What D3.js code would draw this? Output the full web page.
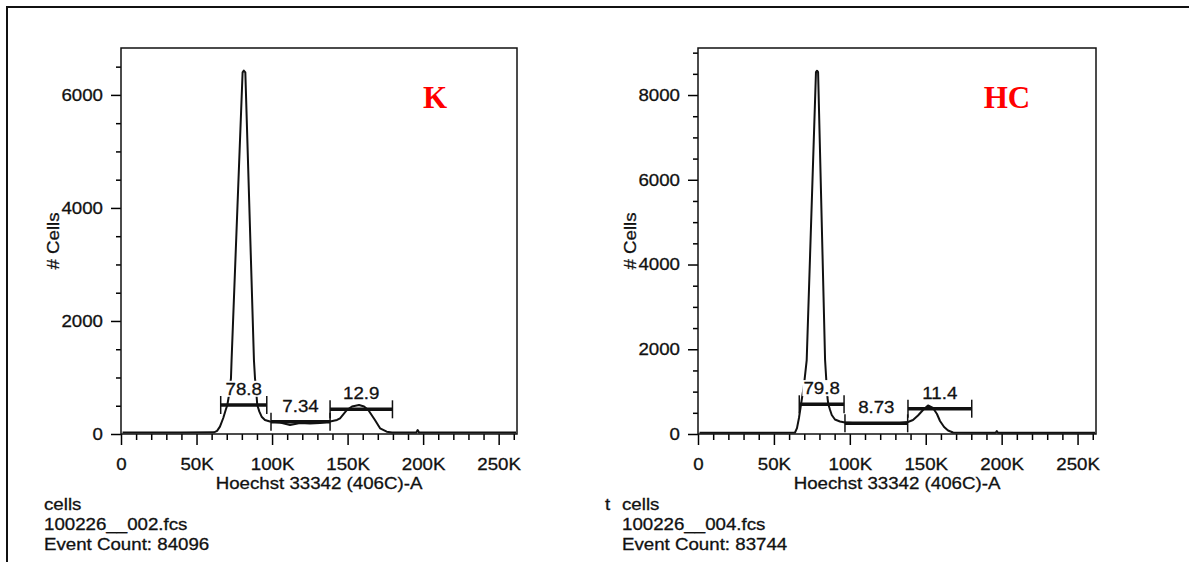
<!DOCTYPE html>
<html>
<head>
<meta charset="utf-8">
<script src="https://cdn.jsdelivr.net/npm/d3@7"></script>
<style>
  body { margin: 0; background: #fff; }
  svg { display: block; }
  text { font-family: "Liberation Sans", Arial, sans-serif; fill: #111; stroke: #111; stroke-width: 0.3px; }
</style>
</head>
<body>
<div id="gv"></div>
<script>
console.log("cell cycle histograms");

let width = 1189;
let height = 562;

// Hoechst 33342 (406C)-A in K, and # cells
let kX =     [1, 20, 40, 61.6, 63.6, 65.5, 67.7, 69.3, 70.4, 71.5, 72.8, 73.2, 80.5, 81.3, 82.3, 88.0, 88.7, 89.7, 90.2, 91.6, 93.1, 95.3, 98.6, 105.3, 111.9, 118.5, 125.1, 131.7, 138.4, 143.0, 145.0, 149.6, 152.9, 157.6, 160.9, 163.7, 168.1, 171.5, 175.9, 179.4, 195.5, 196.4, 197.3, 230, 261.5];
let kCount = [25, 25, 25, 30, 55, 130, 283, 425, 513, 690, 990, 1310, 6400, 6430, 6400, 1310, 990, 690, 513, 395, 306, 248, 221, 204, 160, 195, 186, 195, 221, 248, 278, 425, 487, 513, 487, 425, 248, 101, 41, 25, 25, 70, 25, 25, 25];

// same for the HC histogram
let hcX =     [1, 30, 63.9, 65.2, 66.5, 67.5, 68.5, 69.8, 71.6, 77.7, 78.4, 79.1, 83.7, 84.7, 85.3, 85.8, 87.0, 88.1, 90.2, 93.5, 96.8, 106.7, 119.9, 133.1, 138.3, 141.6, 144.9, 148.2, 151.5, 154.8, 157.4, 159.4, 162.1, 164.7, 168.0, 196, 196.8, 197.6, 230, 261.5];
let hcCount = [30, 30, 35, 140, 378, 614, 850, 1156, 1746, 8540, 8574, 8540, 1746, 1156, 850, 708, 566, 448, 342, 295, 271, 248, 248, 260, 283, 330, 437, 566, 673, 614, 472, 307, 165, 83, 35, 30, 70, 30, 30, 30];

// range gates: start / end (K), drawn at (# cells), percent
let kGateStart = [66.0, 99.3, 138.4];
let kGateEnd   = [96.5, 138.4, 179.7];
let kGateLevel = [513, 218, 437];
let kGateLabel = ["78.8", "7.34", "12.9"];

let hcGateStart = [66.7, 96.8, 138.3];
let hcGateEnd   = [96.2, 138.1, 180.3];
let hcGateLevel = [701, 252, 597];
let hcGateLabel = ["79.8", "8.73", "11.4"];

let xMaxK = 262.144;
let xTicks = [0, 50, 100, 150, 200, 250];
let kYMax = 6830;
let kYTicks = [0, 2000, 4000, 6000];
let hcYMax = 9110;
let hcYTicks = [0, 2000, 4000, 6000, 8000];

let kInfo = ["cells", "100226__002.fcs", "Event Count: 84096"];
let hcInfo = ["cells", "100226__004.fcs", "Event Count: 83744"];

let plotTop = 48;
let plotBottom = 434;
let fontSize = 17;
let stretch = 1.1;

let viz = d3.select("#gv")
  .append("svg")
    .attr("width", width)
    .attr("height", height)
;

// outer frame (left and top edges only are visible)
viz.append("path")
  .attr("d", `M7,${height} L7,7 L${width},7`)
  .attr("fill", "none")
  .attr("stroke", "#111")
  .attr("stroke-width", 2)
;

gotPanel({
  left: 121, right: 517, yMax: kYMax, yTicks: kYTicks,
  xs: kX, counts: kCount,
  gs: kGateStart, ge: kGateEnd, gl: kGateLevel, gt: kGateLabel,
  title: "K", titleX: 435, info: kInfo, infoX: 44
});

gotPanel({
  left: 698, right: 1096, yMax: hcYMax, yTicks: hcYTicks,
  xs: hcX, counts: hcCount,
  gs: hcGateStart, ge: hcGateEnd, gl: hcGateLevel, gt: hcGateLabel,
  title: "HC", titleX: 1007, info: hcInfo, infoX: 622
});

// clipped leftover of the gate name
putText(605, 510, "t", "start");

function putText(x, y, str, anchor) {
  let t = viz.append("g")
    .attr("transform", `translate(${x},${y}) scale(${stretch},1)`)
  ;
  t.append("text")
    .attr("text-anchor", anchor)
    .attr("font-size", fontSize)
    .text(str)
  ;
  return t;
}

function fmtK(d) {
  return d == 0 ? "0" : d + "K";
}

function gotPanel(p) {
  let x = d3.scaleLinear().domain([0, xMaxK]).range([p.left, p.right]);
  let y = d3.scaleLinear().domain([0, p.yMax]).range([plotBottom, plotTop]);

  let xMinor = d3.range(10, xMaxK, 10).filter(d => d % 50 != 0);
  let yMinor = d3.range(500, p.yMax, 500).filter(d => d % 2000 != 0);

  let g = viz.append("g");

  g.append("g")
    .attr("transform", `translate(0,${plotBottom})`)
    .call(d3.axisBottom(x).tickValues(xMinor).tickSize(6).tickFormat(""))
    .call(a => a.select(".domain").remove())
    .call(a => a.selectAll("line").attr("stroke-width", 1.5))
  ;

  g.append("g")
    .attr("transform", `translate(0,${plotBottom})`)
    .call(d3.axisBottom(x).tickValues(xTicks).tickSize(11).tickPadding(13).tickFormat(fmtK))
    .call(a => a.select(".domain").remove())
    .call(a => a.selectAll("line").attr("stroke-width", 1.5))
    .call(a => a.selectAll("text")
      .attr("font-size", fontSize)
      .attr("transform", `scale(${stretch},1)`))
  ;

  g.append("g")
    .attr("transform", `translate(${p.left},0)`)
    .call(d3.axisLeft(y).tickValues(yMinor).tickSize(5).tickFormat(""))
    .call(a => a.select(".domain").remove())
    .call(a => a.selectAll("line").attr("stroke-width", 1.5))
  ;

  g.append("g")
    .attr("transform", `translate(${p.left},0)`)
    .call(d3.axisLeft(y).tickValues(p.yTicks).tickSize(10).tickFormat(d3.format("d")))
    .call(a => a.select(".domain").remove())
    .call(a => a.selectAll("line").attr("stroke-width", 1.5))
    .call(a => a.selectAll("text")
      .attr("x", -18 / stretch)
      .attr("font-size", fontSize)
      .attr("transform", `scale(${stretch},1)`))
  ;

  // plot box
  g.append("rect")
    .attr("x", p.left)
    .attr("y", plotTop)
    .attr("width", p.right - p.left)
    .attr("height", plotBottom - plotTop)
    .attr("fill", "none")
    .attr("stroke", "#111")
    .attr("stroke-width", 1.5)
  ;

  // histogram
  g.append("path")
    .datum(d3.zip(p.xs, p.counts))
    .attr("d", d3.line().x(d => x(d[0])).y(d => y(d[1])))
    .attr("fill", "none")
    .attr("stroke", "#111")
    .attr("stroke-width", 2)
    .attr("stroke-linejoin", "round")
  ;

  // range gates
  let gates = d3.range(p.gs.length).map(i => ({ s: p.gs[i], e: p.ge[i], l: p.gl[i], t: p.gt[i] }));

  g.selectAll(".bar").data(gates)
    .enter()
      .append("line")
      .attr("x1", d => x(d.s))
      .attr("x2", d => x(d.e))
      .attr("y1", d => y(d.l))
      .attr("y2", d => y(d.l))
      .attr("stroke", "#111")
      .attr("stroke-width", 3.5)
  ;

  let ends = [];
  gates.forEach(d => { ends.push({ v: d.s, l: d.l }); ends.push({ v: d.e, l: d.l }); });

  g.selectAll(".end").data(ends)
    .enter()
      .append("line")
      .attr("x1", d => x(d.v))
      .attr("x2", d => x(d.v))
      .attr("y1", d => y(d.l) - 9)
      .attr("y2", d => y(d.l) + 9)
      .attr("stroke", "#111")
      .attr("stroke-width", 1.5)
  ;

  // gate percentages sit on a white box that hides the curve behind them
  gates.forEach(d => {
    let t = putText((x(d.s) + x(d.e)) / 2, y(d.l) - 10, d.t, "middle");
    let bb = t.select("text").node().getBBox();
    t.insert("rect", "text")
      .attr("x", bb.x - 1)
      .attr("y", bb.y + 1)
      .attr("width", bb.width + 2)
      .attr("height", bb.height - 3)
      .attr("fill", "#fff")
    ;
  });

  // axis titles
  putText((p.left + p.right) / 2, 489, "Hoechst 33342 (406C)-A", "middle");

  viz.append("text")
    .attr("transform", `translate(${p.left - 62},${(plotTop + plotBottom) / 2}) rotate(-90) scale(${stretch},1)`)
    .attr("text-anchor", "middle")
    .attr("font-size", fontSize)
    .text("# Cells")
  ;

  // sample label
  viz.append("text")
    .attr("x", p.titleX)
    .attr("y", 108)
    .attr("text-anchor", "middle")
    .attr("font-size", 31)
    .style("font-family", "'Liberation Serif', 'Times New Roman', serif")
    .style("font-weight", "bold")
    .style("fill", "#ff0000")
    .style("stroke", "none")
    .text(p.title)
  ;

  p.info.forEach((s, i) => {
    putText(p.infoX, 510 + i * 20, s, "start");
  });
}
</script>
</body>
</html>
